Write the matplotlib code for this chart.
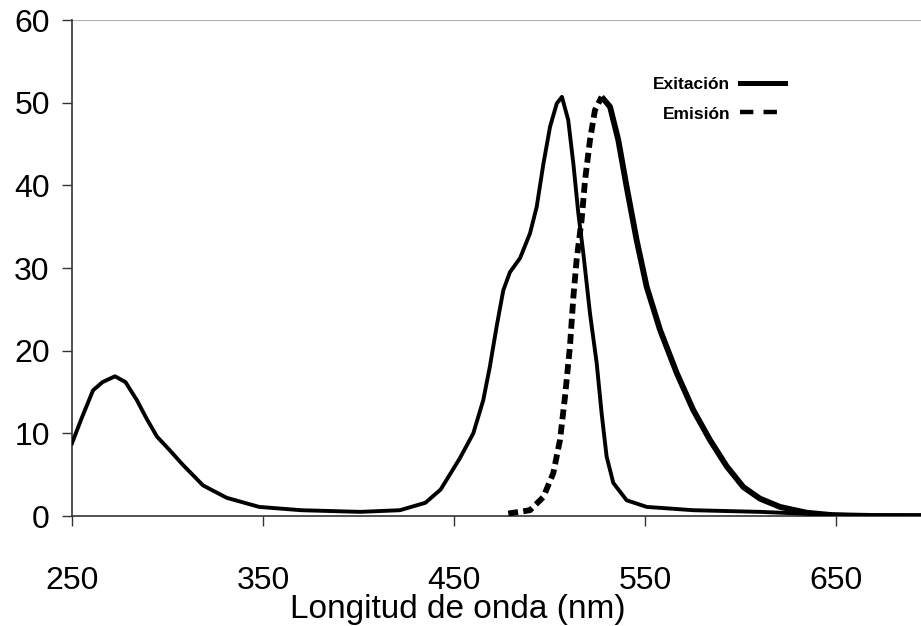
import matplotlib
matplotlib.use("Agg")
import matplotlib.pyplot as plt
from matplotlib.lines import Line2D

# Excitation spectrum (solid)
exc_x = [250, 255, 261, 266, 272.5, 278, 284, 289, 294.5, 301, 308, 318.6, 331, 348, 370,
         400.8, 421.7, 435, 443, 453.1, 460.1, 465.3, 468.8, 472.3, 475.8, 479.3, 484.6,
         489.8, 493.3, 496.8, 500.3, 503.8, 506.5, 509.8, 512.5, 515.1, 517.7, 521.2,
         524.7, 527.3, 529.9, 533.4, 540.4, 550.9, 575.3, 610.2, 631, 660, 695]
exc_y = [8.8, 11.8, 15.2, 16.2, 16.9, 16.2, 14.0, 11.8, 9.6, 8.0, 6.2, 3.7, 2.2, 1.1, 0.7,
         0.5, 0.7, 1.6, 3.2, 7.0, 10.0, 14.0, 18.1, 22.9, 27.3, 29.5, 31.2,
         34.2, 37.4, 42.6, 47.1, 49.9, 50.7, 47.9, 42.6, 36.6, 31.8, 24.5,
         18.5, 12.4, 7.2, 4.0, 1.9, 1.1, 0.7, 0.5, 0.3, 0.1, 0.0]

# Emission spectrum (dashed)
emi_x = [478.4, 489.8, 496.8, 502, 505.5, 508.1, 510.7, 512.5, 514.2, 516.8, 518.6, 521.2,
         523.8, 527.3, 531.7, 536, 540.4, 545.6, 550.9, 557.9, 566.6, 575.3, 584, 592.8,
         601.5, 610.2, 620.7, 634.6, 648.4, 670, 695]
emi_y = [0.3, 0.7, 2.3, 5.2, 9.2, 14.4, 20.5, 26.5, 31.0, 35.8, 40.6, 45.5,
         49.1, 50.7, 49.5, 45.5, 39.8, 33.4, 27.7, 22.5, 17.3, 12.8, 9.2, 6.0,
         3.5, 2.1, 1.1, 0.4, 0.1, 0.0, 0.0]

x_ticks = [250, 350, 450, 550, 650]
y_ticks = [0, 10, 20, 30, 40, 50, 60]
labels = ['Exitación', 'Emisión']

plt.rcParams['font.family'] = ['Liberation Sans', 'DejaVu Sans']

fig = plt.figure(figsize=(9.21, 6.26), dpi=100)
ax = fig.add_axes([72/921, 110/626, 1 - 72/921, (516-20)/626])

ax.axhline(60, color='#b0b0b0', lw=1.5, zorder=1)
ax.plot(exc_x, exc_y, color='black', lw=2.8, zorder=3)
# emission: dashed on the steep rising flank, dense (solid-looking) elsewhere
peak = emi_y.index(max(emi_y))
ax.plot(emi_x[:peak + 1], emi_y[:peak + 1], color='black', lw=4.2,
        linestyle=(0, (1.7, 0.9)), zorder=3)
ax.plot(emi_x[peak:], emi_y[peak:], color='black', lw=4.2, zorder=3,
        solid_capstyle='butt')

ax.set_xlim(250, 694.5)
ax.set_ylim(0, 60)
ax.set_xticks(x_ticks)
ax.set_yticks(y_ticks)
ax.tick_params(axis='both', direction='out', length=7, width=1, color='#333333',
               labelsize=23)
ax.tick_params(axis='x', pad=29)
ax.tick_params(axis='y', pad=9)
for s in ['top', 'right']:
    ax.spines[s].set_visible(False)
for s in ['left', 'bottom']:
    ax.spines[s].set_color('#333333')
    ax.spines[s].set_linewidth(1.2)
ax.set_xlabel('Longitud de onda (nm)', fontsize=24)
ax.xaxis.set_label_coords((458 - 72) / 849, -0.158)

handles = [Line2D([], [], color='black', lw=3.6),
           Line2D([], [], color='black', lw=3.2, dashes=(3.0, 2.3))]
leg = fig.legend(handles, labels, loc='center left',
                 bbox_to_anchor=(653/921, 1 - 99/626), frameon=False,
                 markerfirst=False, prop={'weight': 'bold', 'size': 12.5},
                 handlelength=2.6, handletextpad=0.55, labelspacing=0.85,
                 borderpad=0, borderaxespad=0)

fig.savefig('out.png', dpi=100)
